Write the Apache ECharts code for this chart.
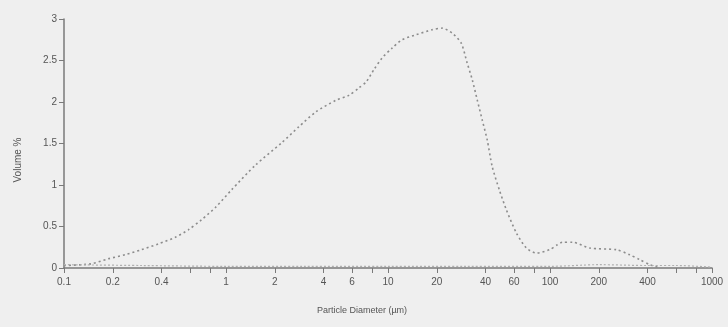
<!DOCTYPE html>
<html>
<head>
<meta charset="utf-8">
<script src="https://cdn.jsdelivr.net/npm/echarts@6/dist/echarts.min.js"></script>
<style>
  html, body { margin: 0; padding: 0; background: #efefef; }
  #chart { width: 728px; height: 327px; }
</style>
</head>
<body>
<div id="chart"></div>
<script>
  // particle diameter (µm) and volume %
  var diameters = [0.1, 0.147, 0.187, 0.239, 0.3, 0.382, 0.486, 0.586, 0.705, 0.861, 1.08, 1.52, 2.21, 2.81, 3.58, 4.76, 5.74, 6.61, 7.31, 8.19, 9.18, 10.6, 12.2, 14.9, 18.7, 21.6, 24.9, 28.3, 30.8, 33.1, 35.6, 38.2, 41.0, 44.0, 48.7, 53.8, 62.1, 71.5, 82.5, 99.3, 111, 119, 138, 176, 258, 310, 358, 413, 476];
  var volume = [0.03, 0.05, 0.11, 0.16, 0.22, 0.29, 0.37, 0.46, 0.58, 0.73, 0.94, 1.24, 1.51, 1.70, 1.88, 2.02, 2.08, 2.17, 2.24, 2.39, 2.53, 2.65, 2.75, 2.81, 2.87, 2.89, 2.83, 2.71, 2.47, 2.27, 2.02, 1.78, 1.54, 1.22, 0.94, 0.70, 0.42, 0.24, 0.18, 0.22, 0.28, 0.31, 0.31, 0.24, 0.22, 0.16, 0.10, 0.04, 0.0];
  // faint second trace lying along the axis
  var baseDiameters = [0.1, 0.3, 1, 3, 10, 30, 100, 200, 400, 600, 1000];
  var baseVolume = [0.04, 0.03, 0.02, 0.02, 0.02, 0.02, 0.02, 0.04, 0.03, 0.03, 0.01];

  var xTicks = [0.1, 0.2, 0.4, 0.6, 0.8, 1, 2, 4, 6, 8, 10, 20, 40, 60, 80, 100, 200, 400, 600, 800, 1000];
  var xLabels = [0.1, 0.2, 0.4, 1, 2, 4, 6, 10, 20, 40, 60, 100, 200, 400, 1000];

  function pairs(xs, ys) {
    return xs.map(function (x, i) { return [x, ys[i]]; });
  }
  function lg(v) { return Math.log10(v); }

  var axisColor = '#7a7a7a';
  var labelStyle = { color: '#555', fontSize: 10, fontFamily: 'Liberation Sans' };

  var myChart = echarts.init(document.getElementById('chart'));
  myChart.setOption({
    backgroundColor: '#efefef',
    animation: false,
    grid: { left: 64, right: 16, top: 19, bottom: 59 },
    xAxis: [
      {
        type: 'log',
        logBase: 10,
        min: 0.1,
        max: 1000,
        show: false
      },
      {
        // drawing axis in log10 space so odd tick values can be shown
        type: 'value',
        min: -1,
        max: 3,
        position: 'bottom',
        axisLine: { show: true, onZero: false, lineStyle: { color: axisColor, width: 1.5 } },
        axisTick: { show: true, length: 5, lineStyle: { color: axisColor }, customValues: xTicks.map(lg) },
        axisLabel: Object.assign({
          margin: 9,
          customValues: xLabels.map(lg),
          formatter: function (v) { return String(+Math.pow(10, v).toPrecision(3)); }
        }, labelStyle),
        splitLine: { show: false }
      }
    ],
    yAxis: {
      type: 'value',
      min: 0,
      max: 3,
      interval: 0.5,
      axisLine: { show: true, onZero: false, lineStyle: { color: axisColor, width: 1.5 } },
      axisTick: { show: true, length: 5, lineStyle: { color: axisColor } },
      axisLabel: Object.assign({ margin: 7 }, labelStyle),
      splitLine: { show: false }
    },
    graphic: [
      {
        type: 'text',
        x: 18,
        y: 160,
        rotation: Math.PI / 2,
        style: { text: 'Volume %', fill: '#555', fontSize: 10, fontFamily: 'Liberation Sans', align: 'center', verticalAlign: 'middle' }
      },
      {
        type: 'text',
        x: 362,
        y: 311,
        style: { text: 'Particle Diameter (µm)', fill: '#555', fontSize: 9, fontFamily: 'Liberation Sans', align: 'center', verticalAlign: 'middle' }
      }
    ],
    series: [
      {
        type: 'line',
        xAxisIndex: 0,
        data: pairs(diameters, volume),
        smooth: 0.25,
        showSymbol: false,
        lineStyle: { color: '#8c8c8c', width: 1.6, type: [2, 3] }
      },
      {
        type: 'line',
        xAxisIndex: 0,
        data: pairs(baseDiameters, baseVolume),
        smooth: 0.3,
        showSymbol: false,
        lineStyle: { color: '#b0b0b0', width: 1.2, type: [2, 2] }
      }
    ]
  });
</script>
</body>
</html>
